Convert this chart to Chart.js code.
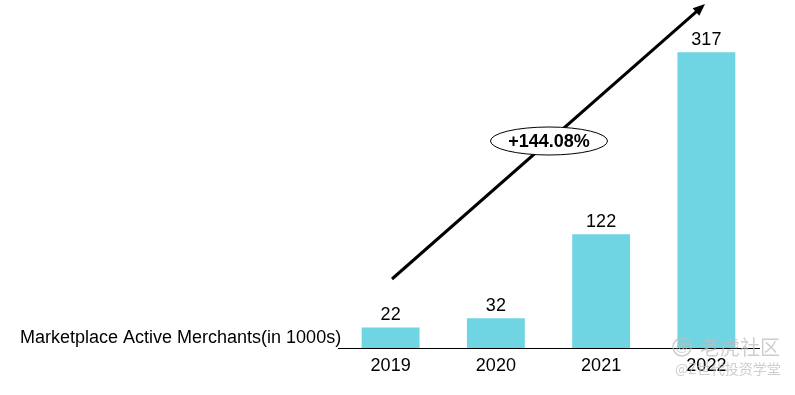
<!DOCTYPE html>
<html>
<head>
<meta charset="utf-8">
<script src="https://cdn.jsdelivr.net/npm/chart.js@4"></script>
<style>
  html, body { margin: 0; padding: 0; background: #fff; }
  #wrap { width: 795px; height: 395px; position: relative; }
</style>
</head>
<body>
<div id="wrap"><canvas id="graph" width="795" height="395"></canvas></div>
<script>
const years = ['2019', '2020', '2021', '2022'];
const merchants = [22, 32, 122, 317];
const seriesLabel = 'Marketplace Active Merchants(in 1000s)';
const growthText = '+144.08%';

const FONT = '"Liberation Sans", Arial, sans-serif';

// value labels, left caption, trend arrow, watermark
const extras = {
    id: 'extras',
    afterDatasetsDraw(chart) {
        const ctx = chart.ctx;
        const meta = chart.getDatasetMeta(0);
        ctx.save();
        ctx.fillStyle = '#000';
        ctx.font = '18px ' + FONT;
        ctx.textAlign = 'center';
        ctx.textBaseline = 'alphabetic';
        meta.data.forEach((bar, i) => {
            ctx.fillText(String(merchants[i]), bar.x, bar.y - 7);
        });

        ctx.textAlign = 'left';
        ctx.fillText(seriesLabel, 20, 343);

        // arrow
        const x0 = 392, y0 = 279, x1 = 705, y1 = 4;
        const ang = Math.atan2(y1 - y0, x1 - x0);
        ctx.strokeStyle = '#000';
        ctx.lineWidth = 3;
        ctx.beginPath();
        ctx.moveTo(x0, y0);
        ctx.lineTo(x1 - 8 * Math.cos(ang), y1 - 8 * Math.sin(ang));
        ctx.stroke();
        ctx.beginPath();
        ctx.moveTo(x1, y1);
        ctx.lineTo(x1 - 12 * Math.cos(ang) + 5 * Math.sin(ang), y1 - 12 * Math.sin(ang) - 5 * Math.cos(ang));
        ctx.lineTo(x1 - 12 * Math.cos(ang) - 5 * Math.sin(ang), y1 - 12 * Math.sin(ang) + 5 * Math.cos(ang));
        ctx.closePath();
        ctx.fillStyle = '#000';
        ctx.fill();

        // growth ellipse
        ctx.beginPath();
        ctx.ellipse(549, 141, 58.5, 14, 0, 0, Math.PI * 2);
        ctx.fillStyle = '#fff';
        ctx.fill();
        ctx.lineWidth = 1;
        ctx.strokeStyle = '#000';
        ctx.stroke();
        ctx.fillStyle = '#000';
        ctx.font = 'bold 18px ' + FONT;
        ctx.textAlign = 'center';
        ctx.textBaseline = 'middle';
        ctx.fillText(growthText, 549, 142);

        // watermark
        ctx.fillStyle = 'rgba(190,190,190,0.75)';
        ctx.strokeStyle = 'rgba(190,190,190,0.75)';
        ctx.lineWidth = 1.5;
        ctx.beginPath();
        ctx.arc(682, 347, 9, 0, Math.PI * 2);
        ctx.stroke();
        ctx.font = '13px ' + FONT;
        ctx.fillText('@', 682, 347);
        ctx.font = '20px "Noto Sans CJK SC", sans-serif';
        ctx.textAlign = 'left';
        ctx.fillText('老虎社区', 700, 347);
        ctx.font = '14px "Noto Sans CJK SC", sans-serif';
        ctx.fillText('@Z世代投资学堂', 675, 369);
        ctx.restore();
    }
};

const ctx = document.getElementById('graph').getContext('2d');
const graph = new Chart(ctx, {
    type: 'bar',
    data: {
        labels: years,
        datasets: [{
            label: seriesLabel,
            data: merchants,
            backgroundColor: '#6fd5e2',
            borderWidth: 0,
            categoryPercentage: 1,
            barPercentage: 0.55
        }]
    },
    options: {
        responsive: false,
        animation: false,
        devicePixelRatio: 1,
        layout: { padding: { left: 338, right: 36, top: 0, bottom: 0 } },
        plugins: { legend: { display: false }, tooltip: { enabled: false } },
        scales: {
            x: {
                grid: { display: false, drawTicks: false },
                border: { display: true, color: '#000', width: 1 },
                ticks: { color: '#000', font: { size: 18, family: FONT }, padding: 7 },
                afterFit: (s) => { s.height = 47; }
            },
            y: { display: false, min: 0, max: 373 }
        }
    },
    plugins: [extras]
});
</script>
</body>
</html>
